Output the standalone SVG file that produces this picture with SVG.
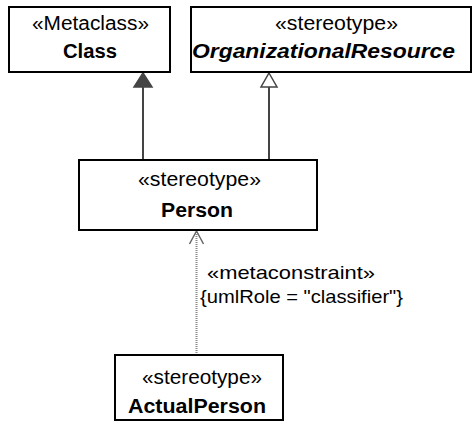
<svg xmlns="http://www.w3.org/2000/svg" width="472" height="422" viewBox="0 0 472 422">
  <style>
    .box { fill: #ffffff; stroke: #000000; stroke-width: 2; }
    .txt { font-family: "Liberation Sans", Arial, sans-serif; font-size: 20px; fill: #000000; }
    .lbl { font-size: 19px; }
    .name { font-weight: bold; }
    .it { font-style: italic; }
    .gen { stroke: #444444; stroke-width: 2; fill: none; }
    .dep { stroke: #888888; stroke-width: 2; stroke-dasharray: 1 1; fill: none; }
  </style>
  <rect width="472" height="422" fill="#ffffff"/>

  <g id="connectors">
    <!-- Person extends Class (filled triangle) -->
    <line class="gen" x1="143" y1="160" x2="143" y2="87"/>
    <polygon points="143,73 152,87 134,87" fill="#444444" stroke="#444444" stroke-width="1.5"/>
    <!-- Person generalizes OrganizationalResource (hollow triangle) -->
    <line class="gen" x1="269" y1="160" x2="269" y2="87"/>
    <polygon points="269,73 277,87 261,87" fill="#ffffff" stroke="#444444" stroke-width="1.5"/>
    <!-- ActualPerson metaconstraint dependency -->
    <line class="dep" x1="196.5" y1="355" x2="196.5" y2="232"/>
    <polyline points="189.5,244 196.5,231 203.5,244" stroke="#666666" stroke-width="1.5" fill="none"/>
    <text class="txt lbl" x="207" y="279" textLength="168" lengthAdjust="spacingAndGlyphs">«metaconstraint»</text>
    <text class="txt lbl" x="200" y="303" textLength="203" lengthAdjust="spacingAndGlyphs">{umlRole = "classifier"}</text>
  </g>

  <g id="class">
    <rect class="box" x="9" y="7" width="161" height="65"/>
    <text class="txt" x="32" y="30" textLength="117" lengthAdjust="spacingAndGlyphs">«Metaclass»</text>
    <text class="txt name" x="63" y="58" textLength="54" lengthAdjust="spacingAndGlyphs">Class</text>
  </g>

  <g id="organizational-resource">
    <rect class="box" x="191" y="7" width="280" height="65"/>
    <text class="txt" x="275" y="30" textLength="123" lengthAdjust="spacingAndGlyphs">«stereotype»</text>
    <text class="txt name it" x="192" y="58" textLength="263" lengthAdjust="spacingAndGlyphs">OrganizationalResource</text>
  </g>

  <g id="person">
    <rect class="box" x="79" y="160" width="238" height="70"/>
    <text class="txt" x="138" y="186" textLength="123" lengthAdjust="spacingAndGlyphs">«stereotype»</text>
    <text class="txt name" x="161" y="217" textLength="72" lengthAdjust="spacingAndGlyphs">Person</text>
  </g>

  <g id="actual-person">
    <rect class="box" x="115" y="355" width="168" height="65"/>
    <text class="txt" x="142" y="384" textLength="120" lengthAdjust="spacingAndGlyphs">«stereotype»</text>
    <text class="txt name" x="128" y="413" textLength="138" lengthAdjust="spacingAndGlyphs">ActualPerson</text>
  </g>
</svg>
